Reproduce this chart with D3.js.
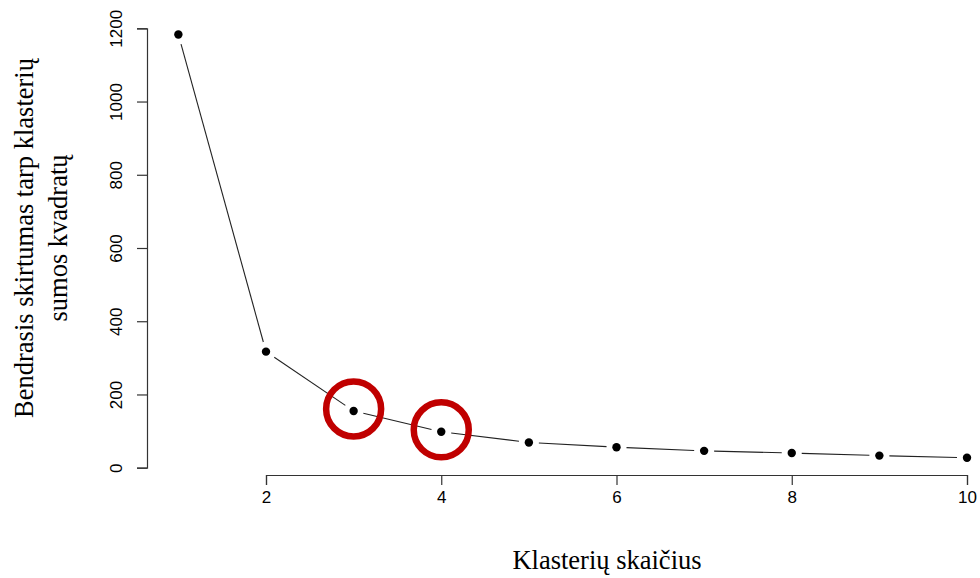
<!DOCTYPE html>
<html>
<head>
<meta charset="utf-8">
<script src="https://cdn.jsdelivr.net/npm/d3@7"></script>
<style>
  body { margin: 0; background: #fff; }
  svg { display: block; }
</style>
</head>
<body>
<div id="chart"></div>
<script>
var width = 980,
    height = 578

// k values and total within-cluster sum of squares
var clusters = [1, 2, 3, 4, 5, 6, 7, 8, 9, 10]
var wss = [1183, 317, 155, 98, 69, 56, 46, 40, 33, 27]
var xTicks = [2, 4, 6, 8, 10]
var yTicks = [0, 200, 400, 600, 800, 1000, 1200]
var highlighted = [3, 4]

var data = clusters.map((k, i) => ({x: k, y: wss[i]}))

var svg = d3.select("#chart").append("svg")
    .attr("width", width)
    .attr("height", height)

svg.append("rect")
    .attr("width", width)
    .attr("height", height)
    .attr("fill", "#fff")

var x = d3.scaleLinear()
    .domain([2, 10])
    .range([266, 967])

var y = d3.scaleLinear()
    .domain([0, 1200])
    .range([467.7, 28.3])

// axes, R style: ticks and labels only over the data range
var xAxis = g => g
    .attr("transform", "translate(0,475)")
    .call(d3.axisBottom(x).tickValues(xTicks).tickFormat(d3.format("d"))
        .tickSize(10).tickPadding(6).tickSizeOuter(10))
    .call(g => g.selectAll("text")
        .attr("font-family", "'Liberation Sans', Arial, sans-serif")
        .attr("font-size", "17px")
        .attr("fill", "#000"))

var yAxis = g => g
    .attr("transform", "translate(147,0)")
    .call(d3.axisLeft(y).tickValues(yTicks).tickFormat(d3.format("d"))
        .tickSize(10).tickSizeOuter(10))
    .call(g => g.selectAll("text")
        .attr("font-family", "'Liberation Sans', Arial, sans-serif")
        .attr("font-size", "17px")
        .attr("fill", "#000")
        .attr("text-anchor", "middle")
        .attr("dy", null)
        .attr("x", null)
        .attr("transform", "translate(-25,0) rotate(-90)"))

svg.append("g").call(xAxis)
svg.append("g").call(yAxis)

svg.selectAll(".domain, .tick line")
    .attr("stroke", "#333")
    .attr("stroke-width", 1.2)

// lines between points with a gap around each point (type = "b")
var gap = 10
var segs = []
for (var i = 0; i < data.length - 1; i++) {
  var x1 = x(data[i].x), y1 = y(data[i].y),
      x2 = x(data[i + 1].x), y2 = y(data[i + 1].y)
  var len = Math.hypot(x2 - x1, y2 - y1)
  if (len <= 2 * gap) continue
  var ux = (x2 - x1) / len, uy = (y2 - y1) / len
  segs.push({x1: x1 + ux * gap, y1: y1 + uy * gap, x2: x2 - ux * gap, y2: y2 - uy * gap})
}

svg.append("g").selectAll("line")
  .data(segs).enter()
  .append("line")
    .attr("x1", d => d.x1)
    .attr("y1", d => d.y1)
    .attr("x2", d => d.x2)
    .attr("y2", d => d.y2)
    .attr("stroke", "#222")
    .attr("stroke-width", 1.1)

svg.append("g").selectAll("circle")
  .data(data).enter()
  .append("circle")
    .attr("cx", d => x(d.x))
    .attr("cy", d => y(d.y))
    .attr("r", 4.2)
    .attr("fill", "#000")

// red rings on the elbow candidates
svg.append("g").selectAll("circle")
  .data(data.filter(d => highlighted.includes(d.x))).enter()
  .append("circle")
    .attr("cx", d => x(d.x))
    .attr("cy", d => y(d.y) - 2)
    .attr("r", 27.5)
    .attr("fill", "none")
    .attr("stroke", "#C00000")
    .attr("stroke-width", 6.5)

// axis titles
var titleFont = "'Liberation Serif', 'Times New Roman', serif"

svg.append("text")
    .attr("font-family", titleFont)
    .attr("font-size", "26.5px")
    .attr("text-anchor", "middle")
    .attr("x", 607)
    .attr("y", 569)
    .text("Klasterių skaičius")

svg.append("text")
    .attr("font-family", titleFont)
    .attr("font-size", "26.5px")
    .attr("text-anchor", "middle")
    .attr("transform", "translate(33,238) rotate(-90)")
    .text("Bendrasis skirtumas tarp klasterių")

svg.append("text")
    .attr("font-family", titleFont)
    .attr("font-size", "26.5px")
    .attr("text-anchor", "middle")
    .attr("transform", "translate(67,238) rotate(-90)")
    .text("sumos kvadratų")
</script>
</body>
</html>
